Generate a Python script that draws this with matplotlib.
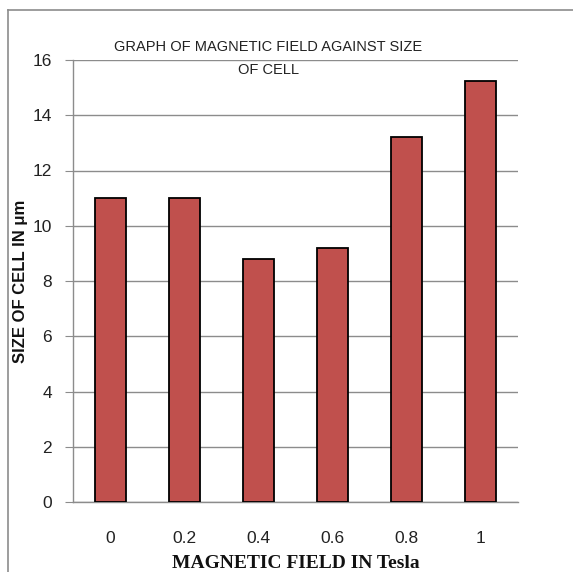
import matplotlib
matplotlib.use("Agg")
import matplotlib.pyplot as plt
from matplotlib.lines import Line2D

categories = ["0", "0.2", "0.4", "0.6", "0.8", "1"]
sizes = [11.0, 11.0, 8.8, 9.2, 13.2, 15.25]
yticks = [0, 2, 4, 6, 8, 10, 12, 14, 16]

fig = plt.figure(figsize=(5.73, 5.72), dpi=100)
ax = fig.add_axes([73/573, 1-502/572, (518-73)/573, (502-60)/572])

x = list(range(len(categories)))
ax.bar(x, sizes, width=0.42, color="#C0504D", edgecolor="black", linewidth=1.3, zorder=3)
ax.set_xlim(-0.5, len(categories)-0.5)
ax.set_ylim(0, 16)
ax.set_yticks(yticks)
ax.set_yticklabels([str(t) for t in yticks], fontsize=12.5, family="Liberation Sans", color="#222222")
ax.set_xticks(x)
ax.set_xticklabels(categories, fontsize=12.5, family="Liberation Sans", color="#222222")
ax.yaxis.grid(True, color="#8c8c8c", linewidth=1.0, zorder=0)
ax.set_axisbelow(True)
for s in ["top", "right"]:
    ax.spines[s].set_visible(False)
ax.spines["left"].set_color("#8c8c8c")
ax.spines["bottom"].set_color("#8c8c8c")
ax.spines["left"].set_linewidth(1.0)
ax.spines["bottom"].set_linewidth(1.0)
ax.tick_params(axis="y", length=6, color="#8c8c8c", pad=9)
ax.tick_params(axis="x", length=0, pad=21)

fig.text(268/573, 1-47/572, "GRAPH OF MAGNETIC FIELD AGAINST SIZE", ha="center", va="center",
         fontsize=10.5, family="Liberation Sans", color="#222222")
fig.text(268/573, 1-70.5/572, "OF CELL", ha="center", va="center",
         fontsize=10.5, family="Liberation Sans", color="#222222")
fig.text(296/573, 1-563/572, "MAGNETIC FIELD IN Tesla", ha="center", va="center",
         fontsize=14, family="Liberation Serif", weight="bold", color="#111111")
fig.text(21/573, 1-281/572, "SIZE OF CELL IN μm", ha="center", va="center", rotation=90,
         fontsize=12, family="Liberation Sans", weight="bold", color="#111111")

# outer chart frame
fig.add_artist(Line2D([8/573, 8/573], [0, 1-10/572], transform=fig.transFigure, color="#8c8c8c", linewidth=1.2))
fig.add_artist(Line2D([8/573, 1], [1-10/572, 1-10/572], transform=fig.transFigure, color="#8c8c8c", linewidth=1.2))

fig.savefig("out.png", dpi=100)
